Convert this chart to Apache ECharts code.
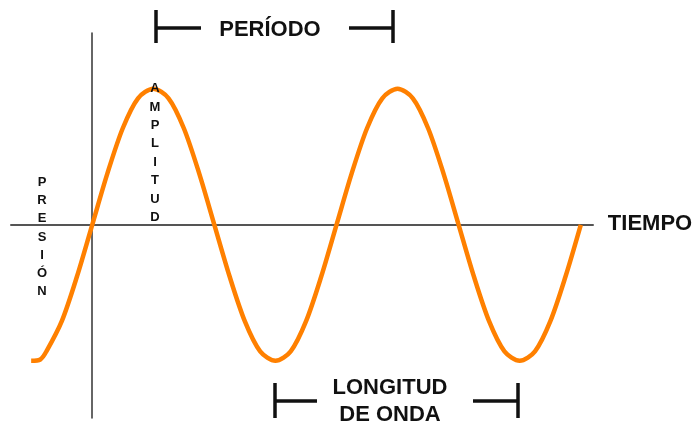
<!DOCTYPE html>
<html>
<head>
<meta charset="utf-8">
<script src="https://cdn.jsdelivr.net/npm/echarts@6/dist/echarts.min.js"></script>
<style>
  html, body { margin: 0; padding: 0; background: #fff; }
  #chart { width: 695px; height: 424px; }
</style>
</head>
<body>
<div id="chart"></div>
<script>
// tiempo (en cuartos de período) y presión
var timePoints = [
  -1, -0.85, -0.75, -0.5, -0.25, 0, 0.25, 0.5, 0.75, 1, 1.25, 1.5, 1.75, 2,
  2.25, 2.5, 2.75, 3, 3.25, 3.5, 3.75, 4, 4.25, 4.5, 4.75, 5, 5.25, 5.5, 5.75, 6,
  6.25, 6.5, 6.75, 7, 7.25, 7.5, 7.75, 8
];
var pressureValues = [
  -1, -0.99, -0.93, -0.71, -0.38, 0, 0.38, 0.71, 0.93, 1, 0.93, 0.71, 0.38, 0,
  -0.38, -0.71, -0.93, -1, -0.93, -0.71, -0.38, 0, 0.38, 0.71, 0.93, 1, 0.93, 0.71, 0.38, 0,
  -0.38, -0.71, -0.93, -1, -0.93, -0.71, -0.38, 0
];
var verticalLabels = ["PRESIÓN", "AMPLITUD"];

var waveData = timePoints.map(function (t, i) {
  return [t, pressureValues[i]];
});

var font = "Arial, 'Liberation Sans', sans-serif";

function stack(word) {
  return word.split("").join("\n");
}

function bar(x1, y1, x2, y2) {
  return {
    type: "line",
    z: 10,
    shape: { x1: x1, y1: y1, x2: x2, y2: y2 },
    style: { stroke: "#111", lineWidth: 3.5 },
  };
}

function label(text, x, y, size, lh) {
  return {
    type: "text",
    z: 10,
    x: x,
    y: y,
    style: {
      text: text,
      font: "bold " + size + "px " + font,
      fill: "#111",
      align: "center",
      verticalAlign: "middle",
      lineHeight: lh || size,
    },
  };
}

var chart = echarts.init(document.getElementById("chart"));

var option = {
  backgroundColor: "#fff",
  animation: false,
  grid: { left: 11, right: 102, top: 33, bottom: 6 },
  xAxis: {
    type: "value",
    min: -1.33,
    max: 8.2,
    axisLine: { onZero: true, lineStyle: { color: "#555", width: 2 } },
    axisTick: { show: false },
    axisLabel: { show: false },
    splitLine: { show: false },
  },
  yAxis: {
    type: "value",
    min: -1.42,
    max: 1.41,
    axisLine: { onZero: true, lineStyle: { color: "#333", width: 1.5 } },
    axisTick: { show: false },
    axisLabel: { show: false },
    splitLine: { show: false },
  },
  series: [
    {
      type: "line",
      data: waveData,
      smooth: 0.3,
      showSymbol: false,
      lineStyle: { color: "#ff8000", width: 4.5 },
      z: 3,
    },
  ],
  graphic: [
    // período
    bar(156, 10, 156, 43),
    bar(156, 28, 201, 28),
    bar(349, 28, 393, 28),
    bar(393, 10, 393, 43),
    label("PERÍODO", 270, 30, 22),
    // longitud de onda
    bar(275, 383, 275, 418),
    bar(275, 401, 317, 401),
    bar(473, 401, 518, 401),
    bar(518, 383, 518, 418),
    label("LONGITUD\nDE ONDA", 390, 401, 22, 27),
    label("TIEMPO", 650, 224, 22),
    label(stack(verticalLabels[0]), 42, 237, 13, 18.3),
    label(stack(verticalLabels[1]), 155, 153, 13, 18.4),
  ],
};

chart.setOption(option);
</script>
</body>
</html>
